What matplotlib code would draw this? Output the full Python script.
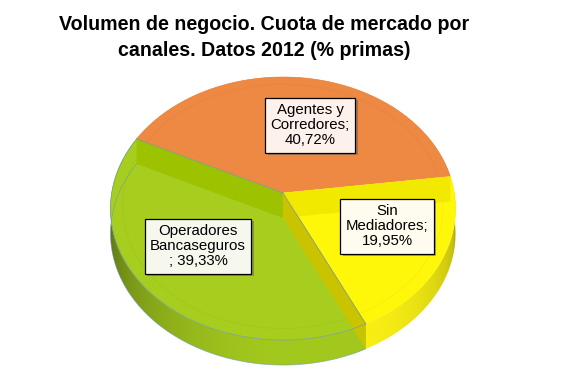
import numpy as np
import matplotlib
matplotlib.use('Agg')
import matplotlib.pyplot as plt
from matplotlib.patches import Polygon
import matplotlib.patheffects as pe
from matplotlib.colors import to_rgb

# ---- data ----
categories = ['Agentes y Corredores', 'Sin Mediadores', 'Operadores Bancaseguros']
values = [40.72, 19.95, 39.33]
label_texts = ['Agentes y\nCorredores;\n40,72%',
               'Sin\nMediadores;\n19,95%',
               'Operadores\nBancaseguros\n; 39,33%']
title_lines = ['Volumen de negocio. Cuota de mercado por',
               'canales. Datos 2012 (% primas)']

# ---- style ----
top_colors = ['#EE8944', '#FFF70A', '#A7CE1E']
side_colors = ['#E87E3A', '#F6EE14', '#A2C81E']
box_colors = ['#FDF1EC', '#FFFBEE', '#F6F8EE']
label_pos = [(310, 125), (387, 226), (198, 246)]   # pixel layout

W, H = 567, 378
PX, PY = 283.0, 193.0      # pie apex (pixels)
A, B, K = 171.3, 129.7, 0.118
D = 25.0                   # pie thickness (pixels)
START = 296.0              # first slice start, clockwise from 12 o'clock

plt.rcParams['font.family'] = ['Liberation Sans', 'DejaVu Sans']

fig = plt.figure(figsize=(W / 100, H / 100), dpi=100)
ax = fig.add_axes([0, 0, 1, 1])
ax.set_xlim(0, W)
ax.set_ylim(H, 0)
ax.axis('off')


def proj(theta, r=1.0, drop=0.0):
    t = np.radians(theta)
    u = r * np.sin(t)
    v = r * np.cos(t)
    w = 1 + K * v
    return PX + A * u / w, PY - B * v / w + drop


def shade_f(theta):
    f = 0.60 + 0.42 * np.maximum(0.0, np.cos(np.radians(theta - 168)))
    return np.minimum(f, 1.0)


total = sum(values)
edges = START + np.concatenate([[0], np.cumsum(values)]) / total * 360.0

# mapping of x pixel column -> angle on the front arc (90..270 deg)
th_front = np.linspace(90, 270, 721)
x_front, _ = proj(th_front)
order = np.argsort(x_front)
xcols = np.arange(0, W) + 0.5
th_of_x = np.interp(xcols, x_front[order], th_front[order])
fx = shade_f(th_of_x)

# ---- outer side walls (gradient clipped to slice side shape) ----
for i in range(len(values)):
    th = np.linspace(edges[i], edges[i + 1], 300)
    xs, ys = proj(th)
    pts = list(zip(xs, ys)) + list(zip(xs[::-1], ys[::-1] + D))
    poly = Polygon(pts, closed=True, facecolor='none', edgecolor='none')
    ax.add_patch(poly)
    base = np.array(to_rgb(side_colors[i]))
    img = np.clip(fx[None, :, None] * base[None, None, :], 0, 1)
    img = np.repeat(img, 2, axis=0)
    im = ax.imshow(img, extent=(0, W, H, 0), aspect='auto',
                   interpolation='bilinear', zorder=1)
    im.set_clip_path(poly)

# ---- top faces ----
for i in range(len(values)):
    th = np.linspace(edges[i], edges[i + 1], 200)
    xs, ys = proj(th)
    pts = [(PX, PY)] + list(zip(xs, ys))
    ax.add_patch(Polygon(pts, closed=True, facecolor=top_colors[i],
                         edgecolor=top_colors[i], lw=0.4, zorder=2))
    xs2, ys2 = proj(th, r=0.93)
    ax.plot(xs2, ys2, color=tuple(np.array(to_rgb(top_colors[i])) * 0.94),
            lw=0.7, alpha=0.5, zorder=2.1)

# ---- radial walls visible (Excel rendering) ----
band_specs = [(edges[3], '#9DC300'),   # green wall at green/orange edge
              (edges[1], '#F2E900'),   # yellow wall at orange/yellow edge
              (edges[2], '#CAC400')]   # yellow wall at yellow/green edge
for ang, col in band_specs:
    xr, yr = proj(ang)
    poly = [(PX, PY), (xr, yr), (xr, yr + D), (PX, PY + D)]
    ax.add_patch(Polygon(poly, closed=True, facecolor=col, edgecolor='none',
                         zorder=2.5))

# thin boundary lines
for ang in [edges[3], edges[2]]:
    xr, yr = proj(ang)
    ax.plot([PX, xr], [PY, yr], color='#7A93A8', lw=0.6, alpha=0.8, zorder=3)
thg = np.linspace(edges[2], edges[3], 200)
xg, yg = proj(thg)
ax.plot(xg, yg, color='#6A96C0', lw=0.6, alpha=0.7, zorder=3)
ax.plot(xg, yg + D, color='#6A96C0', lw=0.6, alpha=0.6, zorder=3)

# ---- data labels ----
for i in range(len(values)):
    x, y = label_pos[i]
    t = ax.text(x, y, label_texts[i], ha='center', va='center',
                multialignment='center', fontsize=10.8, color='black',
                linespacing=1.1, zorder=5,
                bbox=dict(boxstyle='square,pad=0.36', facecolor=box_colors[i],
                          edgecolor='black', lw=0.9))
    t.get_bbox_patch().set_path_effects([
        pe.SimplePatchShadow(offset=(2, -2), shadow_rgbFace='#555555', alpha=0.45),
        pe.Normal()])

# ---- title ----
fig.text(264 / W, 1 - 30 / H, title_lines[0], ha='center', va='baseline',
         fontsize=14.1, fontweight='bold', color='black')
fig.text(264 / W, 1 - 56 / H, title_lines[1], ha='center', va='baseline',
         fontsize=14.1, fontweight='bold', color='black')

fig.savefig('out.png', dpi=100, facecolor='white')
